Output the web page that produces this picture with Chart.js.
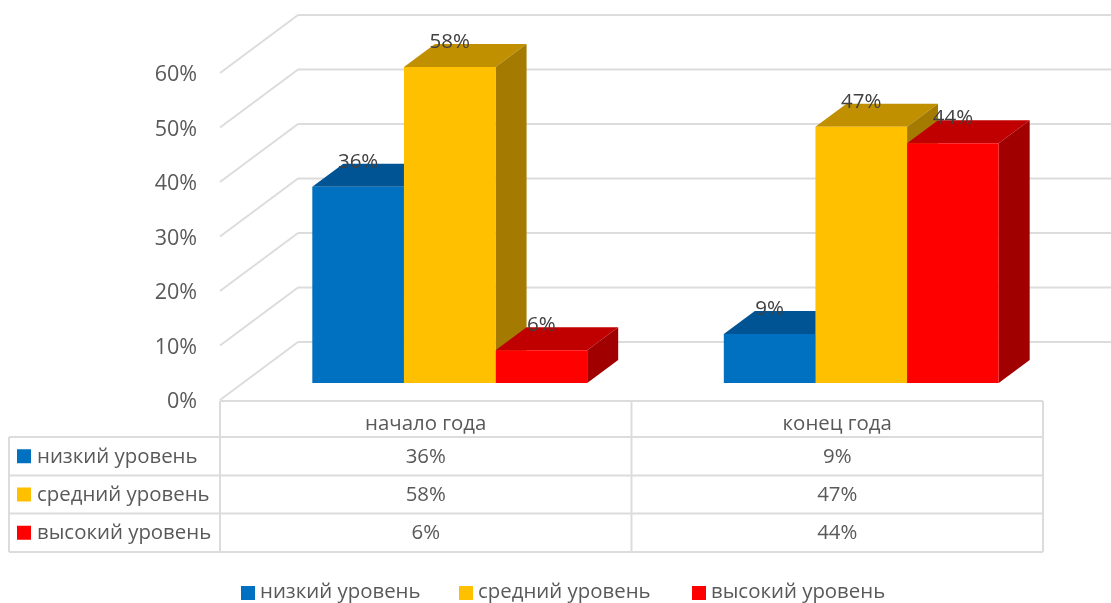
<!DOCTYPE html>
<html>
<head>
<meta charset="utf-8">
<style>
  html, body { margin: 0; padding: 0; background: #fff; }
  canvas { display: block; }
</style>
<script src="https://cdn.jsdelivr.net/npm/chart.js@4"></script>
</head>
<body>
<canvas id="chart" width="1111" height="603"></canvas>
<script>
const categories = ['начало года', 'конец года'];
const seriesNames = ['низкий уровень', 'средний уровень', 'высокий уровень'];
const lowLevel = [36, 9];
const midLevel = [58, 47];
const highLevel = [6, 44];
const seriesValues = [lowLevel, midLevel, highLevel];

const frontColors = ['#0070c0', '#ffc000', '#ff0000'];
const topColors = ['#005494', '#c09000', '#c00000'];
const sideColors = ['#004a80', '#a47b00', '#a00000'];

const fontName = '"Open Sans", sans-serif';
const fontSize = 20.4;
const gridColor = '#dcdcdc';
const textColor = '#595959';

// depth of the bars, and offsets from the bar plane to the front edge and back wall
const barDepth = { x: 31, y: -23 };
const frontShift = { x: -24, y: 17 };
const wallShift = { x: 54, y: -41 };

// left edge of each legend key
const legendKeys = [241, 459, 692];

function line(ctx, x1, y1, x2, y2) {
  ctx.beginPath();
  ctx.moveTo(x1, y1);
  ctx.lineTo(x2, y2);
  ctx.stroke();
}

function poly(ctx, color, pts) {
  ctx.fillStyle = color;
  ctx.beginPath();
  pts.forEach((p, i) => (i ? ctx.lineTo(p[0], p[1]) : ctx.moveTo(p[0], p[1])));
  ctx.closePath();
  ctx.fill();
}

const bars3d = {
  id: 'bars3d',
  beforeDatasetsDraw(chart) {
    const ctx = chart.ctx;
    const area = chart.chartArea;
    const y = chart.scales.y;
    ctx.save();

    // walls
    ctx.strokeStyle = gridColor;
    ctx.lineWidth = 2;
    y.ticks.forEach(t => {
      const py = y.getPixelForValue(t.value);
      const bx = area.left + wallShift.x;
      line(ctx, area.left + frontShift.x, py + frontShift.y, bx, py + wallShift.y);
      line(ctx, bx, py + wallShift.y, chart.width, py + wallShift.y);
    });

    // tops and sides, left to right so that nearer ones overlap
    categories.forEach((c, j) => {
      seriesValues.forEach((v, i) => {
        const b = chart.getDatasetMeta(i).data[j];
        const l = b.x - b.width / 2;
        const r = b.x + b.width / 2;
        const dx = barDepth.x;
        const dy = barDepth.y;
        poly(ctx, topColors[i], [[l, b.y], [l + dx, b.y + dy], [r + dx, b.y + dy], [r, b.y]]);
        poly(ctx, sideColors[i], [[r, b.y], [r + dx, b.y + dy], [r + dx, b.base + dy], [r, b.base]]);
      });
    });
    ctx.restore();
  },
  afterDatasetsDraw(chart) {
    const ctx = chart.ctx;
    ctx.save();
    ctx.fillStyle = '#404040';
    ctx.font = '20.5px ' + fontName;
    ctx.textAlign = 'center';
    ctx.textBaseline = 'middle';
    categories.forEach((c, j) => {
      seriesValues.forEach((v, i) => {
        const b = chart.getDatasetMeta(i).data[j];
        ctx.fillText(v[j] + '%', b.x, b.y - 25);
      });
    });
    ctx.restore();
  },
  afterDraw(chart) {
    const ctx = chart.ctx;
    const area = chart.chartArea;
    const left = area.left + frontShift.x;
    const right = area.right + frontShift.x;
    const mid = (left + right) / 2;
    const tableLeft = 9;
    const rows = [401, 437, 475.5, 513.5, 552];

    ctx.save();
    ctx.strokeStyle = gridColor;
    ctx.lineWidth = 2;
    line(ctx, left, rows[0], right, rows[0]);
    rows.slice(1).forEach(ry => line(ctx, tableLeft, ry, right, ry));
    line(ctx, tableLeft, rows[1], tableLeft, rows[4]);
    [left, mid, right].forEach(vx => line(ctx, vx, rows[0], vx, rows[4]));

    ctx.font = fontSize + 'px ' + fontName;
    ctx.textBaseline = 'middle';
    seriesNames.forEach((name, i) => {
      const cy = (rows[i + 1] + rows[i + 2]) / 2;
      ctx.fillStyle = frontColors[i];
      ctx.fillRect(17, cy - 7, 14, 14);
      ctx.fillStyle = textColor;
      ctx.textAlign = 'left';
      ctx.fillText(name, 37, cy + 0.5);
      ctx.textAlign = 'center';
      seriesValues[i].forEach((v, j) => {
        const cx = (j === 0 ? left + mid : mid + right) / 2;
        ctx.fillText(v + '%', cx, cy + 0.5);
      });

      // legend under the table
      ctx.fillStyle = frontColors[i];
      ctx.fillRect(legendKeys[i], 586, 14, 14);
      ctx.fillStyle = textColor;
      ctx.textAlign = 'left';
      ctx.fillText(name, legendKeys[i] + 19, 592);
    });
    ctx.restore();
  }
};

new Chart(document.getElementById('chart'), {
  type: 'bar',
  data: {
    labels: categories,
    datasets: seriesNames.map((name, i) => ({
      label: name,
      data: seriesValues[i],
      backgroundColor: frontColors[i],
      categoryPercentage: 0.668,
      barPercentage: 1
    }))
  },
  options: {
    responsive: false,
    animation: false,
    layout: { padding: { left: 0, right: 44, top: 56, bottom: 0 } },
    scales: {
      x: {
        grid: { display: false },
        border: { display: false },
        ticks: {
          color: textColor,
          font: { family: fontName, size: fontSize },
          padding: 21,
          labelOffset: -24,
          maxRotation: 0
        },
        afterFit(scale) { scale.height = 220; }
      },
      y: {
        min: 0,
        max: 60,
        grid: { display: false },
        border: { display: false },
        ticks: {
          stepSize: 10,
          color: textColor,
          font: { family: fontName, size: 21.5 },
          padding: 39,
          labelOffset: 19,
          callback: v => v + '%'
        },
        afterFit(scale) { scale.width = 244; }
      }
    },
    plugins: {
      legend: { display: false },
      tooltip: { enabled: false }
    }
  },
  plugins: [bars3d]
});
</script>
</body>
</html>
